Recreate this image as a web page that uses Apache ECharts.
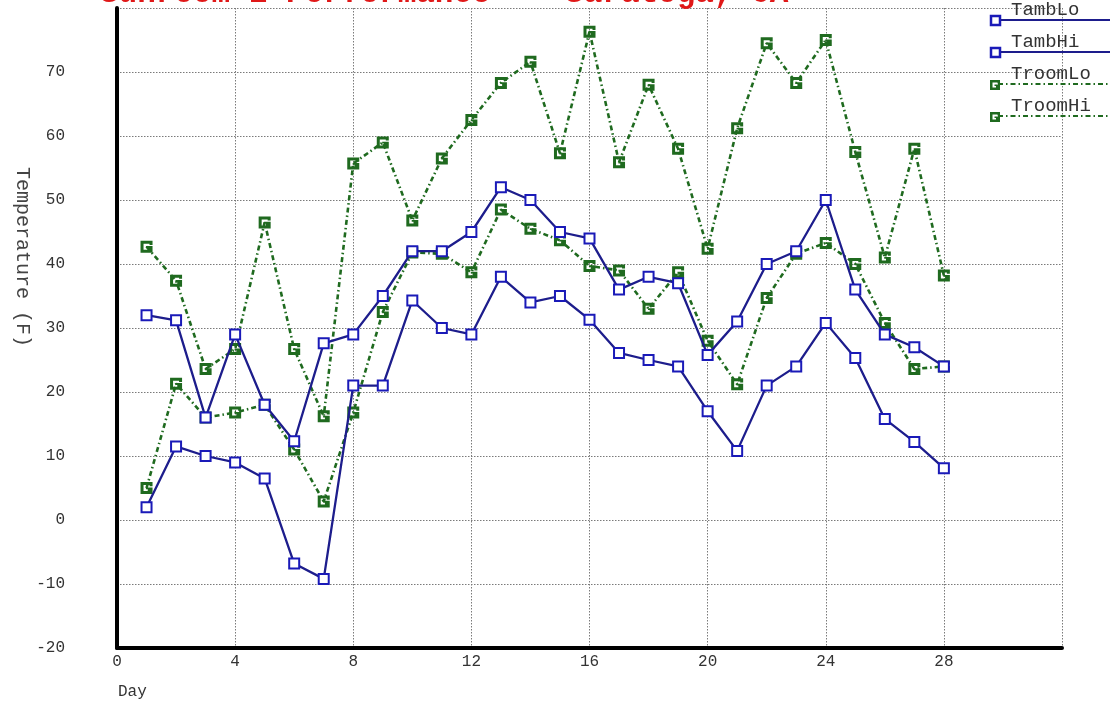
<!DOCTYPE html>
<html>
<head>
<meta charset="utf-8">
<script src="https://cdn.jsdelivr.net/npm/echarts@6/dist/echarts.min.js"></script>
<style>html,body{margin:0;padding:0;background:#fff}#c{width:1115px;height:711px}</style>
</head>
<body>
<div id="c"></div>
<script>
var titleText = 'Sunroom 1 Performance -- Saratoga, CA';
var xName = 'Day';
var yName = 'Temperature (F)';
var days = [1,2,3,4,5,6,7,8,9,10,11,12,13,14,15,16,17,18,19,20,21,22,23,24,25,26,27,28];
var seriesNames = ['TambLo','TambHi','TroomLo','TroomHi'];
var tambLo = [2, 11.5, 10, 9, 6.5, -6.8, -9.2, 21, 21, 34.3, 30, 29, 38, 34, 35, 31.3, 26.1, 25, 24, 17, 10.8, 21, 24, 30.8, 25.3, 15.8, 12.2, 8.1];
var tambHi = [32, 31.2, 16, 29, 18, 12.3, 27.6, 29, 35, 42, 42, 45, 52, 50, 45, 44, 36, 38, 37, 25.8, 31, 40, 42, 50, 36, 29, 27, 24];
var troomLo = [5, 21.3, 16, 16.8, 18, 11, 2.9, 16.8, 32.5, 41.8, 41.6, 38.7, 48.5, 45.5, 43.7, 39.7, 39, 33, 38.7, 28, 21.2, 34.7, 41.6, 43.3, 40, 30.8, 23.6, 24];
var troomHi = [42.7, 37.4, 23.6, 26.7, 46.5, 26.7, 16.2, 55.7, 59, 46.8, 56.5, 62.5, 68.3, 71.6, 57.3, 76.3, 55.9, 68, 58, 42.4, 61.2, 74.5, 68.3, 75, 57.5, 41, 58, 38.2];
var xTickLabels = ['0','4','8','12','16','20','24','28'];
var yTickLabels = ['-20','-10','0','10','20','30','40','50','60','70'];

var FONT = '"Liberation Mono", "DejaVu Sans Mono", monospace';
var BLUE_LINE = '#1d1d8c';
var BLUE_MARK = '#1a1ab8';
var GREEN = '#1f6a1f';
var GREEN_SYM = 'path://M0,0H10V3.5H7.5V2.5H2.5V7.5H6V6H4.5V4.5H10V10H0Z';
var GREEN_PTS = [[0,0],[10,0],[10,3.5],[7.5,3.5],[7.5,2.5],[2.5,2.5],[2.5,7.5],[6,7.5],[6,6],[4.5,6],[4.5,4.5],[10,4.5],[10,10],[0,10]];
var DASHDOT = [5, 3, 1.5, 3];

var allData = [tambLo, tambHi, troomLo, troomHi];
function pairs(vals){ return days.map(function(d,i){ return [d, vals[i]]; }); }

var series = seriesNames.map(function(name, k){
  var blue = k < 2;
  return {
    name: name,
    type: 'line',
    data: pairs(allData[k]),
    symbol: blue ? 'emptyRect' : GREEN_SYM,
    symbolSize: blue ? 10 : 12,
    showSymbol: true,
    animation: false,
    z: blue ? 3 : 2,
    lineStyle: blue ? {color: BLUE_LINE, width: 2.3, type: 'solid'} : {color: GREEN, width: 2.6, type: DASHDOT},
    itemStyle: blue ? {color: BLUE_MARK, borderColor: BLUE_MARK, borderWidth: 2.2} : {color: GREEN}
  };
});

var legendGraphics = [];
seriesNames.forEach(function(name, k){
  var blue = k < 2;
  var y = 20 + 32 * k;
  var lineStyle = {stroke: blue ? BLUE_LINE : GREEN, lineWidth: 2};
  if (!blue) lineStyle.lineDash = DASHDOT;
  legendGraphics.push({type: 'line', shape: {x1: 998, y1: y, x2: 1110, y2: y}, style: lineStyle, z: 10});
  if (blue) {
    legendGraphics.push({type: 'rect', shape: {x: 991, y: y - 4, width: 9, height: 9},
      style: {fill: '#fff', stroke: BLUE_MARK, lineWidth: 2.5}, z: 11});
  } else {
    legendGraphics.push({type: 'polygon', shape: {points: GREEN_PTS.map(function(p){ return [990 + p[0], y - 4 + p[1]]; })},
      style: {fill: GREEN}, z: 11});
  }
  legendGraphics.push({type: 'text', x: 1011, y: y - 1, z: 11,
    style: {text: name, fill: '#333', font: '19px ' + FONT, textVerticalAlign: 'bottom'}});
});

var chart = echarts.init(document.getElementById('c'), null, {renderer: 'canvas'});
chart.setOption({
  backgroundColor: '#fff',
  animation: false,
  title: {
    text: titleText, left: 100, top: -21, padding: 0,
    textStyle: {color: '#e01818', fontFamily: FONT, fontWeight: 'bold', fontSize: 31}
  },
  grid: {left: 117, right: 53, top: 8, bottom: 63, containLabel: false},
  xAxis: {
    type: 'value', min: 0, max: 32, interval: 4,
    axisLine: {show: true, onZero: false, lineStyle: {color: '#000', width: 4}},
    axisTick: {show: false},
    axisLabel: {
      margin: 6, color: '#333', fontFamily: FONT, fontSize: 16,
      formatter: function(v){ var s = String(v); return xTickLabels.indexOf(s) >= 0 ? s : ''; }
    },
    splitLine: {show: true, lineStyle: {color: '#7a7a7a', width: 1, type: [1.5, 1.5]}}
  },
  yAxis: {
    type: 'value', min: -20, max: 80, interval: 10,
    axisLine: {show: true, onZero: false, lineStyle: {color: '#000', width: 4}},
    axisTick: {show: false},
    axisLabel: {
      margin: 52, color: '#333', fontFamily: FONT, fontSize: 16,
      formatter: function(v){ var s = String(v); return yTickLabels.indexOf(s) >= 0 ? s : ''; }
    },
    splitLine: {show: true, lineStyle: {color: '#7a7a7a', width: 1, type: [1.5, 1.5]}}
  },
  graphic: [
    {type: 'text', x: 118, y: 684, style: {text: xName, fill: '#333', font: '16px ' + FONT}},
    {type: 'text', x: 22, y: 257, rotation: -Math.PI / 2,
     style: {text: yName, fill: '#444', font: '20px ' + FONT, textAlign: 'center', textVerticalAlign: 'middle'}}
  ].concat(legendGraphics),
  series: series
});
</script>
</body>
</html>
